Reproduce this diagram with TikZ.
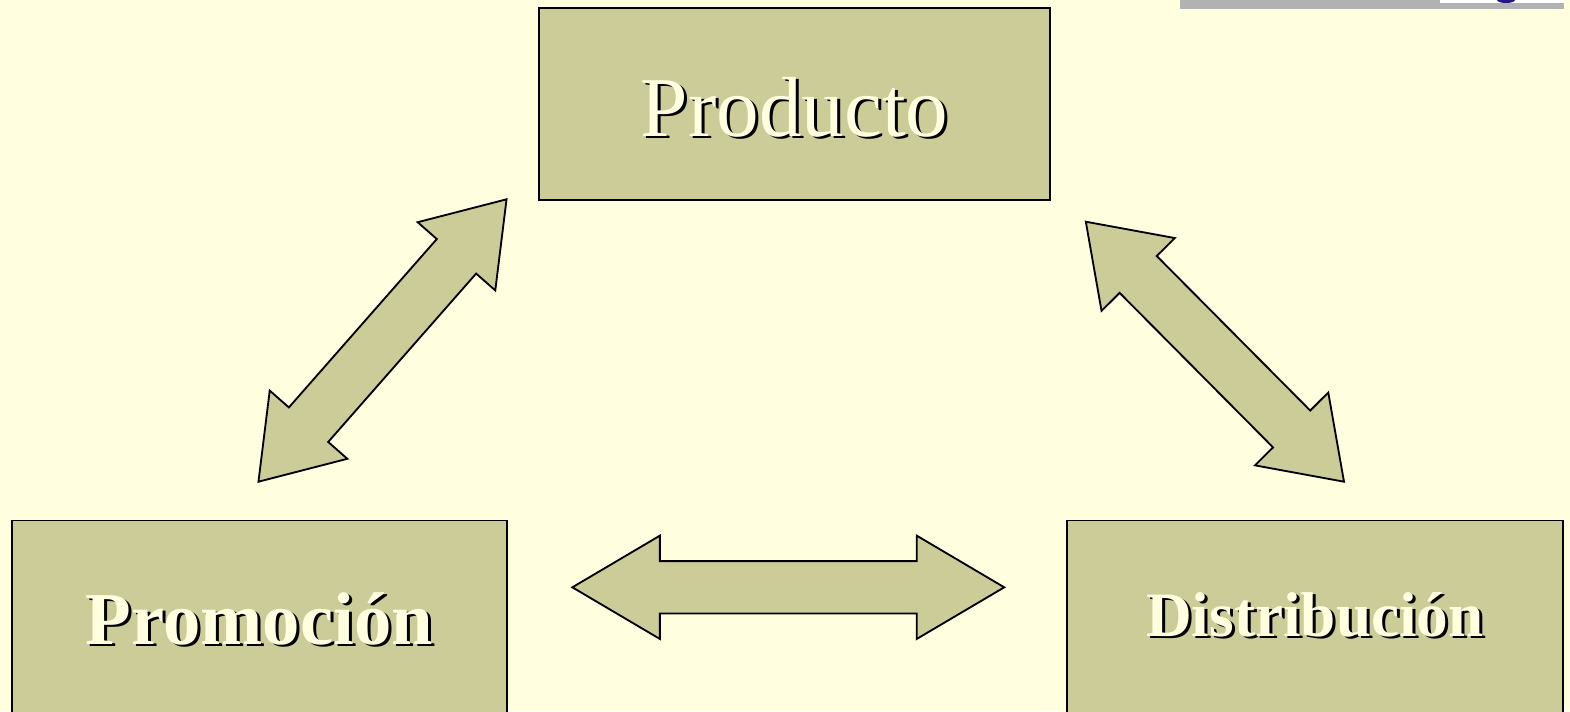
\documentclass[tikz,border=0pt]{standalone}
\usepackage{fontspec}
\setmainfont{Liberation Serif}
\usepackage{xcolor}
\usepackage{tikz}
\usetikzlibrary{shapes.arrows,calc}
\definecolor{fondo}{RGB}{255,255,224}
\definecolor{oliva}{RGB}{204,204,153}
\definecolor{barra}{RGB}{178,178,178}
\definecolor{azul}{RGB}{40,20,130}
\newcommand\sombreado[1]{\makebox[0pt][l]{\hspace{1.7pt}\raisebox{-1.7pt}{\color{black}#1}}{\color{fondo}#1}}
\tikzset{
  bloque/.style={draw, line width=1.05pt, fill=oliva, inner sep=0pt, minimum height=3.84cm},
  flecha/.style={double arrow, draw, line width=1.05pt, fill=oliva, inner xsep=0pt, inner ysep=0.505cm,
    line join=miter, minimum width=2.03cm, double arrow head extend=0.51cm, double arrow tip angle=#1},
  titulo/.style={anchor=base, inner sep=0pt}}

\begin{document}
\begin{tikzpicture}[x=0.02cm, y=-0.02cm]
  \fill[fondo] (0,0) rectangle (1570,711);
  \useasboundingbox (0,0) rectangle (1570,711);
  % barra de arriba
  \fill[barra] (1180,0) rectangle (1564,8.5);
  \fill[white] (1440,0) rectangle (1564,2.7);
  \fill[azul] (1506,0) ellipse [x radius=0.18cm, y radius=0.06cm];
  % cajas
  \node[bloque, minimum width=10.22cm] (prod) at (794.5,104) {};
  \node[bloque, minimum width=9.9cm, minimum height=3.9cm] (promo) at (259.5,618) {};
  \node[bloque, minimum width=9.92cm, minimum height=3.9cm] (distr) at (1315,618) {};
  \node[titulo, font=\fontsize{48.5}{52}\selectfont] (tprod) at ($(prod.center)+(0,32)$) {\sombreado{Producto}};
  \node[titulo, font=\fontsize{42.5}{46}\selectfont\bfseries] (tpromo) at ($(promo.center)+(0,26)$) {\sombreado{Promoción}};
  \node[titulo, font=\fontsize{36}{40}\selectfont\bfseries] (tdistr) at ($(distr.center)+(0,18)$) {\sombreado{Distribución}};
  % flechas dobles
  \node[flecha=68.5, minimum height=7.52cm, rotate=48.7] (fpp) at (382.5,340.5) {};
  \node[flecha=69.6, minimum height=7.33cm, rotate=-45.2] (fpd) at (1214.9,351.7) {};
  \node[flecha=61.1, minimum height=8.64cm] (fmd) at (788.3,587.3) {};
\end{tikzpicture}
\end{document}
